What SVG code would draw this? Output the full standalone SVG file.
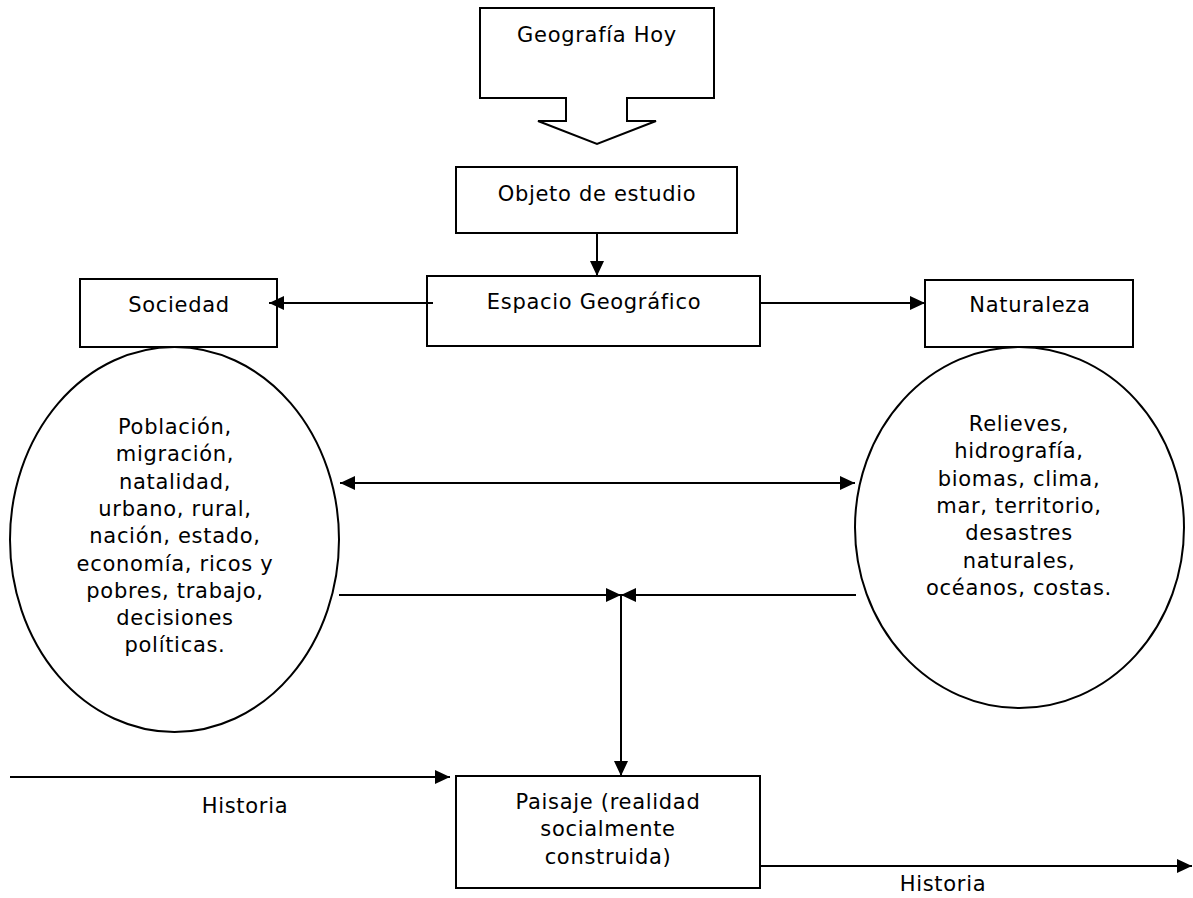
<svg xmlns="http://www.w3.org/2000/svg" width="1193" height="898" viewBox="0 0 1193 898">
<style>
.s{fill:#fff;stroke:#000;stroke-width:2}
.t{font-family:"DejaVu Sans","Verdana",sans-serif;font-size:21px;letter-spacing:0.7px;fill:#000;text-anchor:middle}
.c{stroke:#000;stroke-width:2;fill:none}
</style>
<defs>
<marker id="ah" viewBox="0 0 15 14" refX="15" refY="7" markerWidth="15" markerHeight="14" markerUnits="userSpaceOnUse" orient="auto-start-reverse">
<path d="M0,0 L15,7 L0,14 Z" fill="#000"/>
</marker>
</defs>
<rect width="1193" height="898" fill="#fff"/>
<g id="geografia">
<path class="s" d="M480,8 H714 V98 H627 V121 H656 L597,144 L538,121 H566 V98 H480 Z"/>
<text class="t" x="597" y="42">Geografía Hoy</text>
</g>
<g id="objeto">
<rect class="s" x="456" y="167" width="281" height="66"/>
<text class="t" x="597" y="201">Objeto de estudio</text>
</g>
<g id="espacio">
<rect class="s" x="427" y="276" width="333" height="70"/>
<text class="t" x="594" y="309">Espacio Geográfico</text>
</g>
<g id="sociedad">
<rect class="s" x="80" y="279" width="197" height="68"/>
<text class="t" x="179" y="312">Sociedad</text>
</g>
<g id="naturaleza">
<rect class="s" x="925" y="280" width="208" height="67"/>
<text class="t" x="1030" y="312">Naturaleza</text>
</g>
<g id="sociedad-temas">
<ellipse class="s" cx="174.5" cy="539.5" rx="164.5" ry="192.5"/>
<text class="t" x="175" y="434">Población,</text>
<text class="t" x="175" y="461.3">migración,</text>
<text class="t" x="175" y="488.6">natalidad,</text>
<text class="t" x="175" y="515.9">urbano, rural,</text>
<text class="t" x="175" y="543.2">nación, estado,</text>
<text class="t" x="175" y="570.5">economía, ricos y</text>
<text class="t" x="175" y="597.8">pobres, trabajo,</text>
<text class="t" x="175" y="625.1">decisiones</text>
<text class="t" x="175" y="652.4">políticas.</text>
</g>
<g id="naturaleza-temas">
<ellipse class="s" cx="1019.5" cy="527.5" rx="164.5" ry="180.5"/>
<text class="t" x="1019" y="431">Relieves,</text>
<text class="t" x="1019" y="458.3">hidrografía,</text>
<text class="t" x="1019" y="485.6">biomas, clima,</text>
<text class="t" x="1019" y="512.9">mar, territorio,</text>
<text class="t" x="1019" y="540.2">desastres</text>
<text class="t" x="1019" y="567.5">naturales,</text>
<text class="t" x="1019" y="594.8">océanos, costas.</text>
</g>
<g id="paisaje">
<rect class="s" x="456" y="776" width="304" height="112"/>
<text class="t" x="608" y="809">Paisaje (realidad</text>
<text class="t" x="608" y="836.3">socialmente</text>
<text class="t" x="608" y="863.6">construida)</text>
</g>
<g id="connectors">
<line class="c" x1="597" y1="233" x2="597" y2="276" marker-end="url(#ah)"/>
<line class="c" x1="433" y1="303" x2="269" y2="303" marker-end="url(#ah)"/>
<line class="c" x1="760" y1="303" x2="925" y2="303" marker-end="url(#ah)"/>
<line class="c" x1="340" y1="483" x2="855" y2="483" marker-start="url(#ah)" marker-end="url(#ah)"/>
<line class="c" x1="339" y1="595" x2="621" y2="595" marker-end="url(#ah)"/>
<line class="c" x1="856" y1="595" x2="621" y2="595" marker-end="url(#ah)"/>
<line class="c" x1="621" y1="595" x2="621" y2="776" marker-end="url(#ah)"/>
<line class="c" x1="10" y1="777" x2="450" y2="777" marker-end="url(#ah)"/>
<line class="c" x1="760" y1="866" x2="1192" y2="866" marker-end="url(#ah)"/>
</g>
<g id="labels">
<text class="t" x="245" y="813">Historia</text>
<text class="t" x="943" y="891">Historia</text>
</g>
</svg>
